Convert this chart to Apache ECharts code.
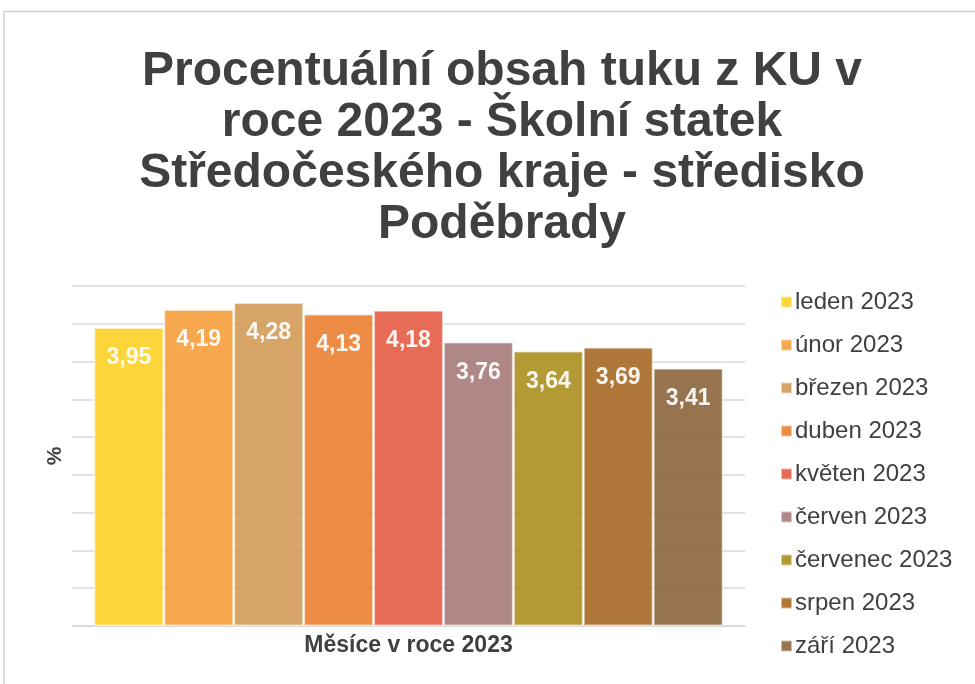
<!DOCTYPE html>
<html>
<head>
<meta charset="utf-8">
<script src="https://cdn.jsdelivr.net/npm/echarts@6/dist/echarts.min.js"></script>
<style>
  html, body { margin: 0; padding: 0; background: #fff; }
  #chart { width: 975px; height: 684px; }
</style>
</head>
<body>
<div id="chart"></div>
<script>
// months (one series per month, single category)
const months = ['leden 2023', 'únor 2023', 'březen 2023', 'duben 2023', 'květen 2023',
  'červen 2023', 'červenec 2023', 'srpen 2023', 'září 2023']
const fatValues = [3.95, 4.19, 4.28, 4.13, 4.18, 3.76, 3.64, 3.69, 3.41]
const colors = ['#FCD12A', '#F6A03E', '#D49D5B', '#EC8234', '#E65F46',
  '#A97D7D', '#AD9124', '#A86B29', '#8D6840']
const categories = ['']

const fontFamily = '"Liberation Sans", Arial, Helvetica, sans-serif'
const chart = echarts.init(document.getElementById('chart'))

const series = months.map((name, i) => ({
  name: name,
  type: 'bar',
  data: [fatValues[i]],
  barGap: '0%',
  barCategoryGap: '6.5%',
  itemStyle: {
    color: colors[i],
    opacity: 0.92,
    borderColor: 'rgba(255,255,255,0.6)',
    borderWidth: 1.5
  },
  label: {
    show: true,
    position: 'insideTop',
    distance: 19,
    color: '#fff',
    fontSize: 23,
    fontWeight: 'bold',
    fontFamily: fontFamily,
    formatter: p => p.value.toFixed(2).replace('.', ',')
  },
  animation: false
}))

chart.setOption({
  backgroundColor: '#fff',
  textStyle: { fontFamily: fontFamily },
  graphic: [{
    type: 'polyline',
    shape: { points: [[4, 690], [4, 11.5], [980, 11.5]] },
    style: { stroke: '#d0d0d0', lineWidth: 1.5, fill: null }
  }],
  title: {
    text: 'Procentuální obsah tuku z KU v\nroce 2023 - Školní statek\nStředočeského kraje - středisko\nPoděbrady',
    left: 497,
    textAlign: 'center',
    top: 41,
    textStyle: {
      color: '#404040',
      fontSize: 48,
      fontWeight: 'bold',
      lineHeight: 51,
      fontFamily: fontFamily
    }
  },
  legend: {
    orient: 'vertical',
    left: 775,
    top: 285,
    itemWidth: 11,
    itemHeight: 11,
    itemGap: 19,
    icon: 'rect',
    data: months,
    textStyle: {
      color: '#404040',
      fontSize: 24,
      lineHeight: 24,
      fontFamily: fontFamily,
      padding: [0, 0, 0, -2]
    }
  },
  grid: {
    left: 72,
    right: 230,
    top: 286,
    bottom: 58
  },
  xAxis: {
    type: 'category',
    data: categories,
    name: 'Měsíce v roce 2023',
    nameLocation: 'middle',
    nameGap: 8,
    nameTextStyle: {
      color: '#404040',
      fontSize: 23,
      fontWeight: 'bold',
      fontFamily: fontFamily
    },
    axisLine: { lineStyle: { color: '#d9d9d9', width: 1.5 } },
    axisTick: { show: false },
    axisLabel: { show: false }
  },
  yAxis: {
    type: 'value',
    min: 0,
    max: 4.5,
    interval: 0.5,
    name: '%',
    nameLocation: 'middle',
    nameGap: 6,
    nameTextStyle: {
      color: '#404040',
      fontSize: 21,
      fontWeight: 'bold',
      fontFamily: fontFamily
    },
    axisLine: { show: false },
    axisTick: { show: false },
    axisLabel: { show: false },
    splitLine: { lineStyle: { color: '#d9d9d9', width: 1.5 } }
  },
  series: series
})
</script>
</body>
</html>
